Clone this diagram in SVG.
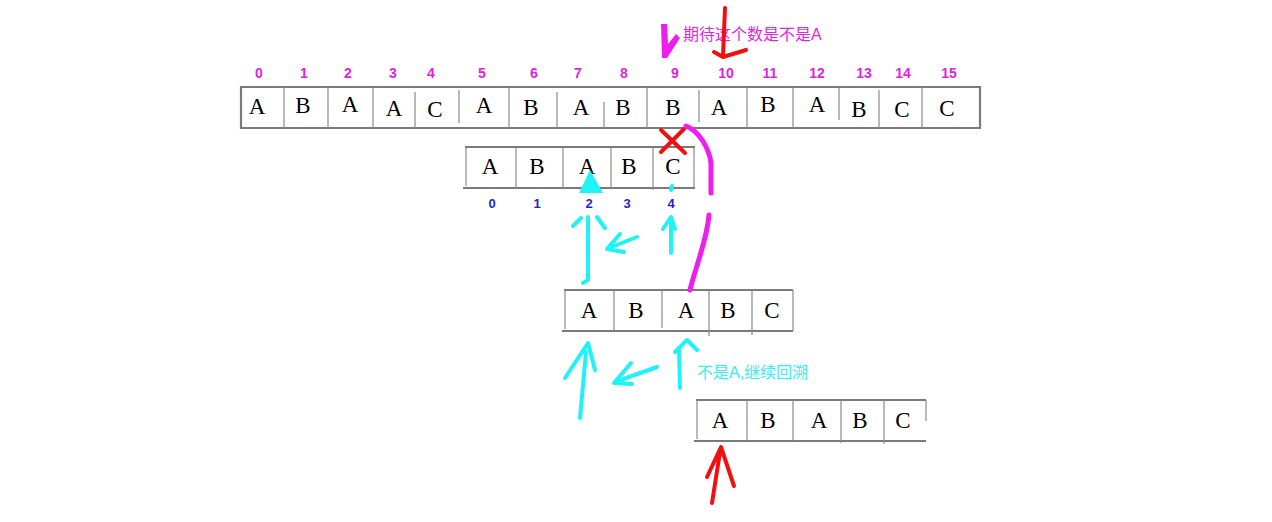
<svg xmlns="http://www.w3.org/2000/svg" width="1272" height="522" viewBox="0 0 1272 522">
<style>
.bg{fill:#fff}
.edge{stroke:#7a7a7a;stroke-width:2.2;fill:none}
.div{stroke:#8a8a8a;stroke-width:1.2;fill:none}
.ch{font-family:"Liberation Serif",serif;font-size:23px;fill:#000;text-anchor:middle}
.im{font-family:"Liberation Sans",sans-serif;font-size:14px;font-weight:bold;fill:#e01fe0;text-anchor:middle}
.ib{font-family:"Liberation Sans",sans-serif;font-size:13px;font-weight:bold;fill:#1f1fc8;text-anchor:middle}
.note{font-family:"Liberation Sans","Noto Sans CJK SC",sans-serif;font-size:16px}
.cy{stroke:#1ef4f8;stroke-width:4;fill:none;stroke-linecap:round;stroke-linejoin:round}
.mg{stroke:#f01df0;stroke-width:5;fill:none;stroke-linecap:round;stroke-linejoin:round}
.rd{stroke:#f01010;stroke-width:4;fill:none;stroke-linecap:round;stroke-linejoin:round}
</style>
<rect class="bg" x="0" y="0" width="1272" height="522"/>

<g id="text-array">
<path class="edge" d="M241,87 H980 V128 H241 Z"/>
<path class="div" d="M284,87 V128 M328,87 V128 M373,87 V128 M415,92 V128 M459,90 V123 M509,87 V128 M557,92 V128 M604,102 V128 M647,87 V128 M699,90 V122 M747,87 V128 M793,87 V128 M839,88 V120 M879,90 V128 M922,87 V128"/>
<g class="im">
<text x="259" y="78">0</text><text x="304" y="78">1</text><text x="348" y="78">2</text><text x="393" y="78">3</text>
<text x="431" y="78">4</text><text x="482" y="78">5</text><text x="534" y="78">6</text><text x="578" y="78">7</text>
<text x="624" y="78">8</text><text x="675" y="78">9</text><text x="726" y="78">10</text><text x="770" y="78">11</text>
<text x="817" y="78">12</text><text x="864" y="78">13</text><text x="903" y="78">14</text><text x="949" y="78">15</text>
</g>
<g class="ch">
<text x="257" y="114">A</text><text x="303" y="113">B</text><text x="350" y="112">A</text><text x="394" y="116">A</text>
<text x="435" y="117">C</text><text x="484" y="113">A</text><text x="531" y="115">B</text><text x="581" y="115">A</text>
<text x="623" y="115">B</text><text x="673" y="115">B</text><text x="719" y="115">A</text><text x="768" y="112">B</text>
<text x="817" y="112">A</text><text x="859" y="117">B</text><text x="902" y="117">C</text><text x="947" y="116">C</text>
</g>
</g>

<g id="pattern-1">
<path class="edge" d="M465,147 H695 M463,188 H695"/>
<path class="div" d="M466,147 V186 M516,147 V188 M563,147 V188 M611,147 V188 M653,147 V190 M694,147 V188"/>
<g class="ch">
<text x="490" y="174">A</text><text x="537" y="174">B</text><text x="587" y="174">A</text><text x="629" y="174">B</text><text x="673" y="174">C</text>
</g>
<g class="ib">
<text x="492" y="208">0</text><text x="537" y="208">1</text><text x="589" y="208">2</text><text x="627" y="208">3</text><text x="671" y="208">4</text>
</g>
</g>

<g id="pattern-2">
<path class="edge" d="M564,290 H793 M562,331 H793"/>
<path class="div" d="M565,290 V329 M614,290 V331 M662,290 V328 M709,290 V336 M752,290 V335 M793,290 V331"/>
<g class="ch">
<text x="589" y="318">A</text><text x="636" y="318">B</text><text x="686" y="318">A</text><text x="728" y="318">B</text><text x="772" y="318">C</text>
</g>
</g>

<g id="pattern-3">
<path class="edge" d="M696,400 H926 M694,441 H926"/>
<path class="div" d="M697,400 V439 M747,400 V441 M793,400 V441 M841,400 V443 M884,400 V444 M926,400 V421"/>
<g class="ch">
<text x="720" y="428">A</text><text x="768" y="428">B</text><text x="819" y="428">A</text><text x="860" y="428">B</text><text x="903" y="428">C</text>
</g>
</g>

<g id="note-expect">
<text class="note" x="683" y="40" fill="#e424e4">期待这个数是不是A</text>
</g>
<g id="note-backtrack">
<text class="note" x="697" y="378" fill="#36eef8">不是A,继续回溯</text>
</g>

<g id="connectors">
<path d="M661,24 L667,24 L668,44 L676,34 L680,38 L667,58 L662,58 Z" fill="#f01df0"/>
<path class="rd" d="M725,8 L723,56 M714,52 L723,57 L746,50"/>
<path class="rd" stroke-width="3" d="M661,130 L685,153 M684,129 L661,152"/>
<path class="mg" stroke-width="4.5" d="M686,126 C699,131 709,148 711,163 L711,193"/>
<path class="mg" stroke-width="4.5" d="M709,215 C707,240 697,262 690,290"/>
<polygon points="579,193 590,170 603,193" fill="#1ef4f8"/>
<path class="cy" d="M588,217 L588,280 L583,283 M573,226 L581,218 M597,217 L605,228"/>
<path class="cy" stroke-width="3.5" d="M620,234 L607,249 L624,252 M609,248 L637,237"/>
<path class="cy" stroke-width="3" d="M672,186 L671,190"/>
<path class="cy" d="M671,253 L671,222 M663,229 L671,217 L675,229"/>
<path class="cy" d="M580,418 L586,352 M565,378 L588,343 L595,370"/>
<path class="cy" d="M631,363 L614,383 L632,384 M615,382 L657,367"/>
<path class="cy" d="M680,388 L679,350 M675,352 L687,340 L697,350"/>
<path class="rd" d="M712,503 L720,452 M707,477 L721,447 L734,486"/>
</g>
</svg>
